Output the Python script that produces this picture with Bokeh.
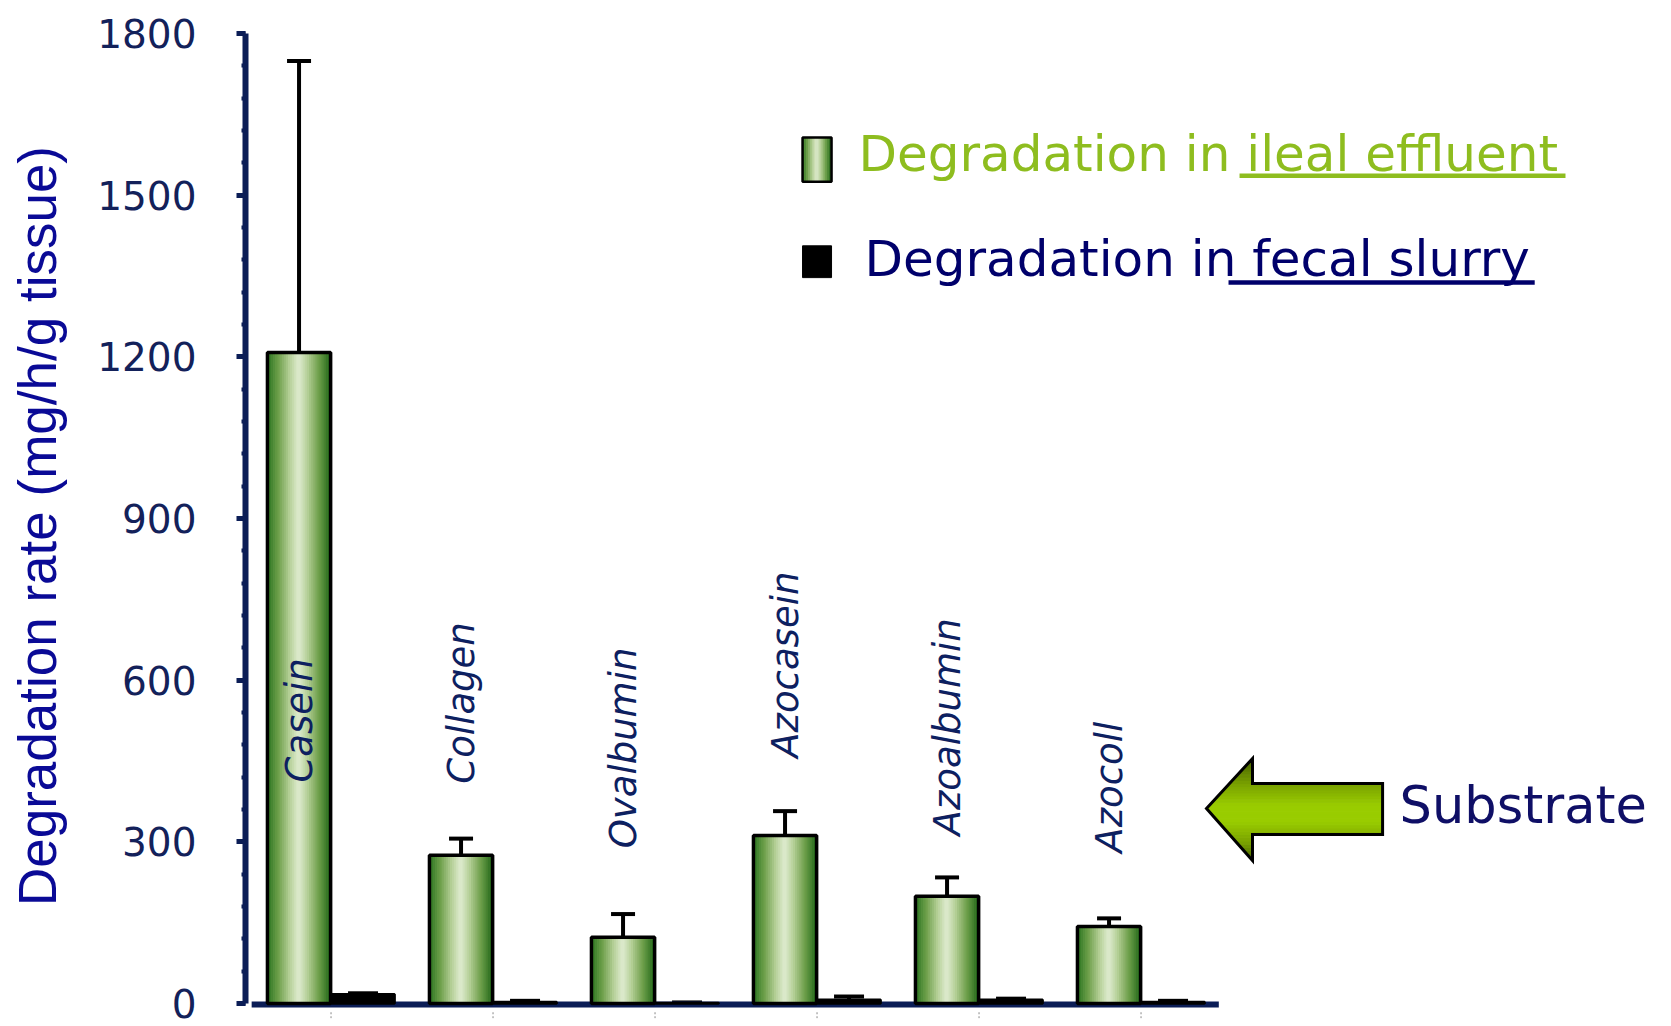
import numpy as np
from bokeh.plotting import figure
from bokeh.models import ColumnDataSource, FixedTicker, Whisker, TeeHead, Range1d
from bokeh.core.properties import value
from bokeh.embed import file_html
from bokeh.resources import INLINE

# ---------------- data ----------------
substrates = ["Casein", "Collagen", "Ovalbumin", "Azocasein", "Azoalbumin", "Azocoll"]
ileal = [1208, 275, 123, 312, 199, 143]          # degradation in ileal effluent
ileal_err = [541, 31, 43, 45, 35, 15]
fecal = [17, 3, 1, 7, 7, 3]                      # degradation in fecal slurry
fecal_err = [2, 2, 1, 6, 2, 2]
y_ticks = [0, 300, 600, 900, 1200, 1500, 1800]
y_minor = list(range(0, 1801, 60))
label_start = [410, 408, 288, 456, 312, 280]     # where each rotated substrate label begins

legend_ileal = "Degradation in ileal effluent"
legend_fecal = "Degradation in fecal slurry"
y_title = "Degradation rate (mg/h/g tissue)"
arrow_text = "Substrate"

# ---------------- styles ----------------
NAVY = "#0b1d56"
TICK_TXT = "#13215a"
TITLE_BLUE = "#0a0a96"
LBL = "#0d2060"
GREEN_TXT = "#8ebd1f"
LEG_NAVY = "#00006b"
COMIC = value("DejaVu Sans")
BASE_SHIFT = 28   # compensates the alphabetic-baseline placement

W, H = 1663, 1026
p = figure(width=W, height=H, output_backend="svg", toolbar_location=None,
           x_range=Range1d(-0.528, 8.225), y_range=Range1d(-27.8, 1800),
           x_axis_location=None, y_axis_location="left",
           min_border=0, min_border_left=245, min_border_top=33, min_border_bottom=8,
           outline_line_color=None, background_fill_color="white")
p.xgrid.grid_line_color = None
p.ygrid.grid_line_color = None

ax = p.yaxis[0]
ax.bounds = (0, 1800)
ax.ticker = FixedTicker(ticks=y_ticks, minor_ticks=y_minor)
ax.axis_line_color = NAVY
ax.axis_line_width = 6
ax.major_tick_out = 9
ax.major_tick_in = 0
ax.major_tick_line_width = 5
ax.major_tick_line_color = NAVY
ax.minor_tick_out = 4
ax.minor_tick_in = 0
ax.minor_tick_line_width = 4
ax.minor_tick_line_color = NAVY
ax.major_label_text_font = "DejaVu Sans"
ax.major_label_text_font_size = "39px"
ax.major_label_text_color = TICK_TXT
ax.major_label_standoff = 40
ax.axis_label = y_title
ax.axis_label_text_font = "Liberation Sans"
ax.axis_label_text_font_size = "53px"
ax.axis_label_text_font_style = "normal"
ax.axis_label_text_color = TITLE_BLUE
ax.axis_label_standoff = 27

n = len(substrates)
idx = list(range(n))
off = 0.1975
bw = 0.39
gx = [i - off for i in idx]
bx = [i + off for i in idx]

# horizontal gradient colours for the green bars
stops_u = [0.0, 0.18, 0.35, 0.5, 0.65, 0.82, 1.0]
stops_c = [(40, 115, 30), (110, 160, 75), (178, 206, 148), (224, 236, 208),
           (178, 206, 148), (110, 160, 75), (36, 104, 26)]


def grad_color(u):
    r = np.interp(u, stops_u, [c[0] for c in stops_c])
    g = np.interp(u, stops_u, [c[1] for c in stops_c])
    b = np.interp(u, stops_u, [c[2] for c in stops_c])
    return "#%02x%02x%02x" % (int(r), int(g), int(b))


def strips(xc, w, bottom, top, k=30):
    L, R, B, T, C = [], [], [], [], []
    for j in range(k):
        u = (j + 0.5) / k
        L.append(xc - w / 2 + w * j / k)
        R.append(xc - w / 2 + w * (j + 1) / k)
        B.append(bottom)
        T.append(top)
        C.append(grad_color(u))
    return L, R, B, T, C


# x axis line
p.segment(x0=[-0.49], y0=[-2], x1=[n - 0.52], y1=[-2], line_width=6, line_color=NAVY)
# faint tick marks under the axis
p.segment(x0=idx, y0=[-16] * n, x1=idx, y1=[-28] * n, line_width=1.5,
          line_color="#b0b0b0", line_dash="2 2")

# green bars with gradient
SL, SR, SB, ST, SC = [], [], [], [], []
for xc, v in zip(gx, ileal):
    L, R, B, T, C = strips(xc, bw, 0, v)
    SL += L; SR += R; SB += B; ST += T; SC += C
p.quad(left=SL, right=SR, bottom=SB, top=ST, fill_color=SC, line_color=SC, line_width=1)
p.vbar(x=gx, width=bw, top=ileal, bottom=0, fill_color=None, line_color="black", line_width=3.5)

# black bars
p.vbar(x=bx, width=bw, top=fecal, bottom=0, fill_color="black", line_color="black", line_width=2.5)

# error bars
src_g = ColumnDataSource(dict(x=gx, lo=ileal, hi=[a + b for a, b in zip(ileal, ileal_err)]))
p.add_layout(Whisker(source=src_g, base="x", lower="lo", upper="hi", line_width=4,
                     line_color="black", lower_head=None,
                     upper_head=TeeHead(size=24, line_width=4, line_color="black")))
src_b = ColumnDataSource(dict(x=bx, lo=fecal, hi=[a + b for a, b in zip(fecal, fecal_err)]))
p.add_layout(Whisker(source=src_b, base="x", lower="lo", upper="hi", line_width=4,
                     line_color="black", lower_head=None,
                     upper_head=TeeHead(size=30, line_width=4, line_color="black")))

# rotated substrate labels
p.text(x=gx, y=label_start, text=substrates, angle=np.pi / 2, text_font=COMIC,
       text_font_style="italic", text_font_size="37px", text_color=LBL,
       text_align="left", text_baseline="middle")

# ---------------- legend ----------------
L, R, B, T, C = strips(3.0, 0.179, 1525, 1607, k=14)
p.quad(left=L, right=R, bottom=B, top=T, fill_color=C, line_color=C, line_width=1)
p.quad(left=[3.0 - 0.0895], right=[3.0 + 0.0895], bottom=[1525], top=[1607],
       fill_color=None, line_color="black", line_width=2.5)
p.quad(left=[3.0 - 0.0895], right=[3.0 + 0.0895], bottom=[1347], top=[1406],
       fill_color="black", line_color="black", line_width=1)
p.text(x=[3.256], y=[1549 + BASE_SHIFT], text=[legend_ileal], text_font=COMIC,
       text_font_size="50px", text_color=GREEN_TXT, text_align="left",
       text_baseline="alphabetic")
p.text(x=[3.293], y=[1354 + BASE_SHIFT], text=[legend_fecal], text_font=COMIC,
       text_font_size="50px", text_color=LEG_NAVY, text_align="left",
       text_baseline="alphabetic")
p.segment(x0=[5.608], y0=[1536], x1=[7.62], y1=[1536], line_width=4.5, line_color=GREEN_TXT)
p.segment(x0=[5.54], y0=[1338], x1=[7.43], y1=[1338], line_width=4.5, line_color=LEG_NAVY)

# ---------------- arrow ----------------
xt, yt = 5.404, 361.9      # tip
xh = 5.688                 # back of head
yht, yhb = 454.6, 265.4    # head top / bottom
yst, ysb = 408.2, 313.6    # shaft top / bottom
xs = 6.491                 # shaft end


def xl(y):
    if y >= yt:
        return xt + (xh - xt) * (y - yt) / (yht - yt)
    return xt + (xh - xt) * (yt - y) / (yt - yhb)


astops_u = [0.0, 0.25, 0.45, 0.62, 0.82, 1.0]
astops_c = [(72, 98, 0), (122, 162, 0), (153, 204, 0), (153, 204, 0), (122, 162, 0), (72, 98, 0)]


def acol(u):
    r = np.interp(u, astops_u, [c[0] for c in astops_c])
    g = np.interp(u, astops_u, [c[1] for c in astops_c])
    b = np.interp(u, astops_u, [c[2] for c in astops_c])
    return "#%02x%02x%02x" % (int(r), int(g), int(b))


edges = []
for a, b_ in [(yhb, ysb), (ysb, yt), (yt, yst), (yst, yht)]:
    e = list(np.linspace(a, b_, 9))
    edges += e if not edges else e[1:]
PX, PY, PC = [], [], []
for y0, y1 in zip(edges[:-1], edges[1:]):
    ym = 0.5 * (y0 + y1)
    xr = xs if (ysb - 1e-6 <= ym <= yst + 1e-6) else xh
    PX.append([xl(y0), xr, xr, xl(y1)])
    PY.append([y0, y0, y1, y1])
    PC.append(acol((yht - ym) / (yht - yhb)))
p.patches(xs=PX, ys=PY, fill_color=PC, line_color=PC, line_width=1)
p.patch(x=[xt, xh, xh, xs, xs, xh, xh, xt], y=[yt, yht, yst, yst, ysb, ysb, yhb, yt],
        fill_color=None, line_color="black", line_width=3, line_join="miter")

p.text(x=[6.596], y=[339.6 + BASE_SHIFT], text=[arrow_text], text_font=COMIC,
       text_font_size="51px", text_color="#0f0f66", text_align="left",
       text_baseline="alphabetic")

open("out.html", "w").write(file_html(p, INLINE))
